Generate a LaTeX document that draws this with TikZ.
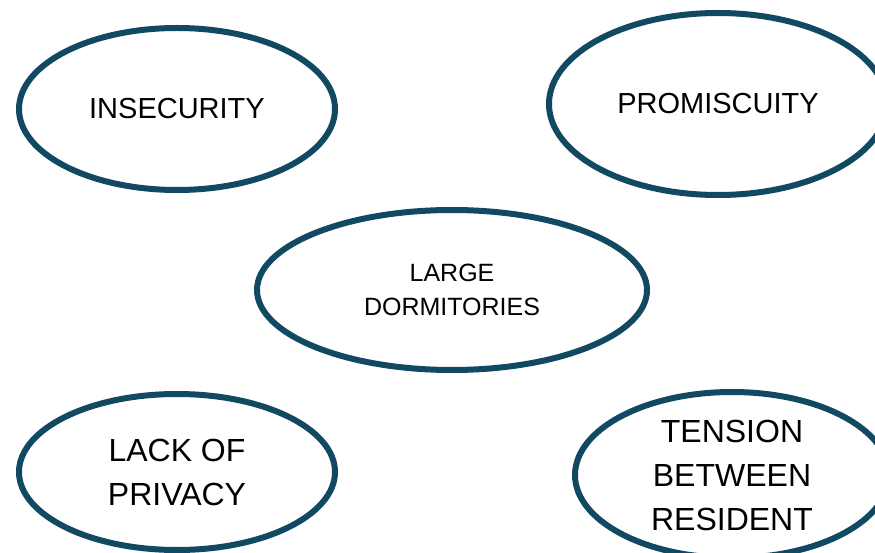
\documentclass[tikz,border=0pt]{standalone}
\usepackage{fontspec}
\setmainfont{Liberation Sans}
\usetikzlibrary{shapes.geometric}
\definecolor{ringblue}{RGB}{17,73,99}

\begin{document}
\begin{tikzpicture}[x=1pt, y=-1pt,
		main node/.style={ellipse,draw=ringblue,line width=6pt,align=center,inner sep=0pt,text=black},
		small text/.style={font=\fontsize{25}{34}\selectfont},
		mid text/.style={font=\fontsize{29}{34}\selectfont},
		big text/.style={font=\fontsize{32}{44}\selectfont}]
		
		\fill[white] (0,0) rectangle (875,553);
		\useasboundingbox (0,0) rectangle (875,553);
		
		\node[main node, mid text, minimum width=316pt, minimum height=162pt] (ins) at (177,109) {INSECURITY};
		\node[main node, mid text, minimum width=338pt, minimum height=182pt] (pro) at (718,104) {PROMISCUITY};
		\node[main node, small text, minimum width=390pt, minimum height=160pt] (dorm) at (452,290) {LARGE\\DORMITORIES};
		\node[main node, big text, minimum width=316pt, minimum height=156pt] (lack) at (177,472) {LACK OF\\PRIVACY};
		\node[main node, big text, minimum width=314pt, minimum height=166pt] (ten) at (732,475) {TENSION\\BETWEEN\\RESIDENT};
		\end{tikzpicture}
\end{document}
